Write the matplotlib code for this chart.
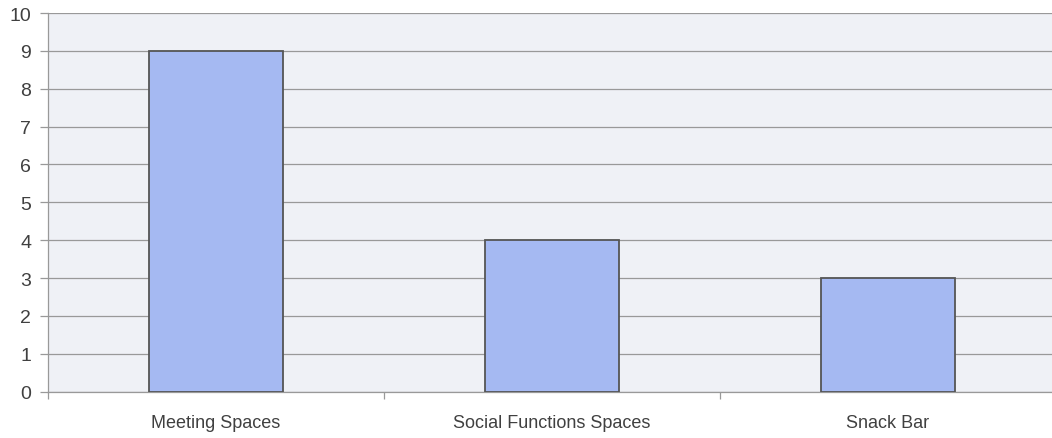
import matplotlib

matplotlib.use("Agg")
import matplotlib.pyplot as plt


categories = ["Meeting Spaces", "Social Functions Spaces", "Snack Bar"]
values = [9, 4, 3]
y_ticks = [0, 1, 2, 3, 4, 5, 6, 7, 8, 9, 10]

BAR_COLOR = "#a5b9f2"
EDGE_COLOR = "#555555"
GRID_COLOR = "#999999"
TEXT_COLOR = "#404040"
BG_COLOR = "#eff1f6"

plt.rcParams["font.family"] = ["Liberation Sans", "DejaVu Sans"]

fig = plt.figure(figsize=(10.52, 4.39), dpi=100)
fig.patch.set_facecolor("white")
ax = fig.add_axes([48 / 1052, (439 - 392.6) / 439, 1008 / 1052, 378.6 / 439])
ax.set_facecolor(BG_COLOR)

x = list(range(len(categories)))
ax.bar(x, values, width=0.4, color=BAR_COLOR, edgecolor=EDGE_COLOR, linewidth=1.3, zorder=3)

ax.set_xlim(-0.5, len(categories) - 0.5)
ax.set_ylim(0, 10)
ax.set_yticks(y_ticks)
ax.set_xticks(x)
ax.set_xticklabels(categories)
ax.set_xticks([i + 0.5 for i in range(-1, len(categories))], minor=True)

ax.grid(True, axis="y", color=GRID_COLOR, linewidth=0.9, zorder=0)
ax.tick_params(axis="x", which="major", length=0, pad=16, labelsize=13, labelcolor=TEXT_COLOR)
ax.tick_params(axis="x", which="minor", length=5, color=GRID_COLOR, width=0.9)
ax.tick_params(axis="y", length=6, color=GRID_COLOR, width=0.9, pad=6, labelsize=14, labelcolor=TEXT_COLOR)

for side in ["top", "right"]:
    ax.spines[side].set_visible(False)
for side in ["left", "bottom"]:
    ax.spines[side].set_color(GRID_COLOR)
    ax.spines[side].set_linewidth(0.9)

fig.savefig("out.png", dpi=100)
plt.close(fig)
